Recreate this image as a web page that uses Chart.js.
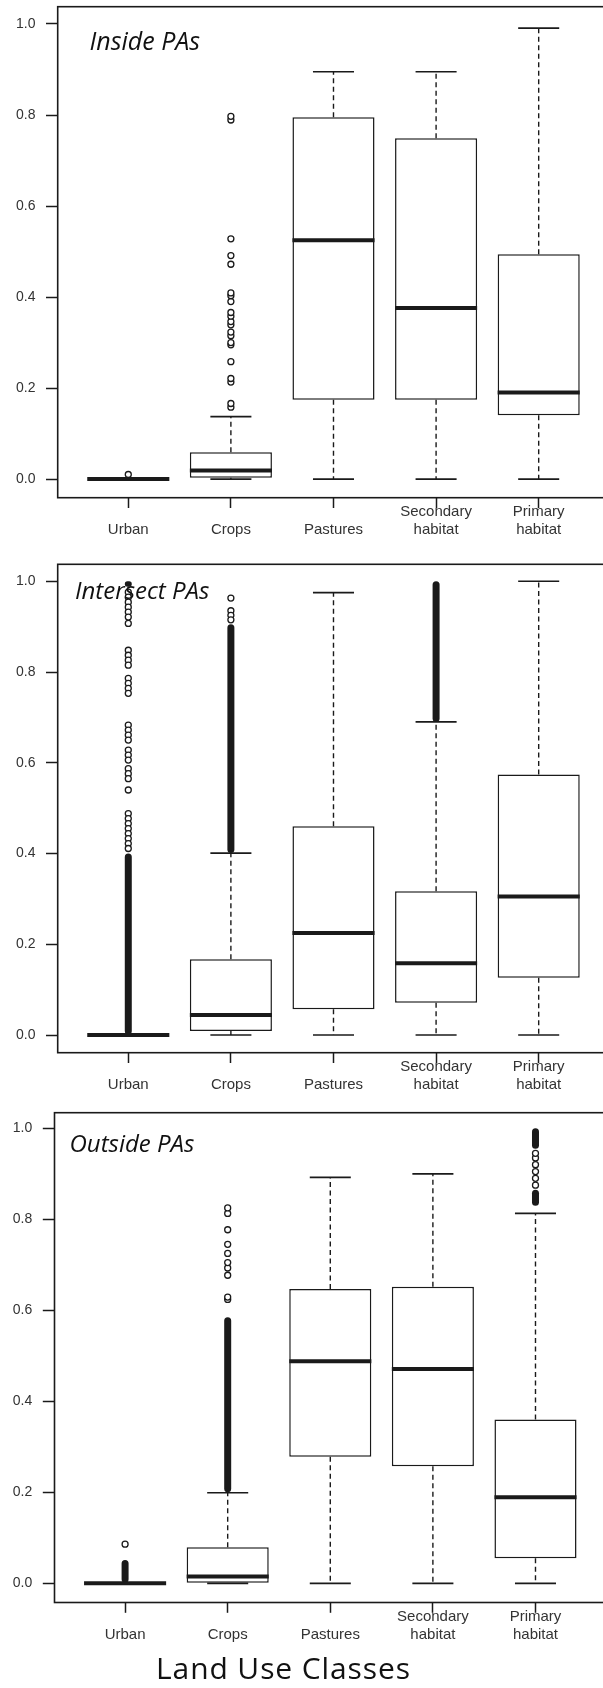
<!DOCTYPE html>
<html>
<head>
<meta charset="utf-8">
<script src="https://cdn.jsdelivr.net/npm/chart.js@4.4.1/dist/chart.umd.min.js"></script>
<style>
  html, body { margin: 0; padding: 0; background: #fff; overflow: hidden; width: 603px; height: 1688px; }
  canvas { position: absolute; left: 0; }
  .ttl { position: absolute; font-family: 'Open Sans', 'Lato', sans-serif; color: #111; line-height: 1; white-space: nowrap; z-index: 2; }
  .it { font-style: italic; }
</style>
</head>
<body>
<canvas id="c0"></canvas>
<canvas id="c1"></canvas>
<canvas id="c2"></canvas>
<div id="t0" class="ttl it"></div>
<div id="t1" class="ttl it"></div>
<div id="t2" class="ttl it"></div>
<div id="tx" class="ttl"></div>
<script>
// ---------------- data ----------------
const categories = ['Urban', 'Crops', 'Pastures', 'Secondary habitat', 'Primary habitat'];
const tickLabels = [['', 'Urban'], ['', 'Crops'], ['', 'Pastures'], ['Secondary', 'habitat'], ['Primary', 'habitat']];
const yTickValues = [0, 0.2, 0.4, 0.6, 0.8, 1.0];
const panelTitles = ['Inside PAs', 'Intersect PAs', 'Outside PAs'];
const xAxisTitle = 'Land Use Classes';

// Inside PAs
const insideLow    = [0, 0,     0,     0,     0];
const insideQ1     = [0, 0.003, 0.174, 0.174, 0.140];
const insideMedian = [0, 0.019, 0.525, 0.376, 0.190];
const insideQ3     = [0, 0.059, 0.795, 0.749, 0.494];
const insideHigh   = [0, 0.137, 0.895, 0.895, 0.991];
const insideOutliers = [
  [0.010],
  [0.158, 0.166, 0.213, 0.221, 0.258, 0.295, 0.300, 0.315, 0.323, 0.339, 0.346, 0.358, 0.366, 0.390, 0.403, 0.409, 0.472, 0.491, 0.528, 0.789, 0.797],
  [], [], []
];
const insideDense = [[], [], [], [], []];

// Intersect PAs
const intersectLow    = [0, 0,     0,     0,     0];
const intersectQ1     = [0, 0.009, 0.057, 0.071, 0.126];
const intersectMedian = [0, 0.044, 0.225, 0.158, 0.305];
const intersectQ3     = [0, 0.167, 0.460, 0.317, 0.574];
const intersectHigh   = [0, 0.401, 0.975, 0.690, 1.000];
const intersectOutliers = [
  [0.976, 0.965, 0.954, 0.943, 0.932, 0.921, 0.907, 0.848, 0.837, 0.826, 0.815, 0.786, 0.775, 0.764, 0.753,
   0.683, 0.672, 0.661, 0.650, 0.628, 0.617, 0.606, 0.587, 0.576, 0.565, 0.540, 0.488, 0.477, 0.466,
   0.455, 0.444, 0.433, 0.422, 0.411],
  [0.963, 0.935, 0.925, 0.915],
  [], [], []
];
const intersectDense = [[[0, 0.40], [0.988, 1.0]], [[0.401, 0.905]], [], [[0.69, 1.0]], []];

// Outside PAs
const outsideLow    = [0, 0,     0,     0,     0];
const outsideQ1     = [0, 0.000, 0.278, 0.257, 0.055];
const outsideMedian = [0, 0.015, 0.488, 0.471, 0.189];
const outsideQ3     = [0, 0.079, 0.647, 0.652, 0.360];
const outsideHigh   = [0, 0.199, 0.892, 0.900, 0.813];
const outsideOutliers = [
  [0.086],
  [0.624, 0.629, 0.677, 0.693, 0.705, 0.725, 0.745, 0.777, 0.813, 0.825],
  [], [],
  [0.875, 0.890, 0.905, 0.920, 0.935, 0.945]
];
const outsideDense = [[[0, 0.051]], [[0.20, 0.585]], [], [], [[0.83, 0.865], [0.955, 1.0]]];

// ---------------- layout / style ----------------
const INK = '#1a1a1a';
const CANVAS_W = 620;
const X_MIN = 0.312, X_MAX = 5.7, UNIT_PX = 102.6;
const BOX_HALF = 0.4, CAP_HALF = 0.2;
const geoms = [
  { top: 0,    height: 560, areaTop: 6.7,    areaBottom: 497.7,  left: 57.7, yMin: -0.041,  yMax: 1.038 },
  { top: 560,  height: 545, areaTop: 564,    areaBottom: 1052.7, left: 57.7, yMin: -0.039,  yMax: 1.0374 },
  { top: 1105, height: 583, areaTop: 1112.7, areaBottom: 1602.5, left: 54.5, yMin: -0.0422, yMax: 1.0343 }
];
const titlePos = [
  { left: 89.5, top: 27.8, size: 25 },
  { left: 75,   top: 578,  size: 24 },
  { left: 69.5, top: 1131.4, size: 24 }
];
const xTitlePos = { left: 156, top: 1653, size: 30, spacing: 0.9 };

const panels = [
  { low: insideLow, q1: insideQ1, median: insideMedian, q3: insideQ3, high: insideHigh, outliers: insideOutliers, dense: insideDense },
  { low: intersectLow, q1: intersectQ1, median: intersectMedian, q3: intersectQ3, high: intersectHigh, outliers: intersectOutliers, dense: intersectDense },
  { low: outsideLow, q1: outsideQ1, median: outsideMedian, q3: outsideQ3, high: outsideHigh, outliers: outsideOutliers, dense: outsideDense }
];

Chart.defaults.font.family = "'Liberation Sans', Arial, sans-serif";
Chart.defaults.color = '#333';

function seg(ctx, x1, y1, x2, y2) {
  ctx.beginPath(); ctx.moveTo(x1, y1); ctx.lineTo(x2, y2); ctx.stroke();
}

function makeDecor(p) {
  return {
    id: 'boxDecor',
    beforeDatasetsDraw(chart) {
      const { ctx, scales: { x, y } } = chart;
      ctx.save();
      ctx.strokeStyle = INK;
      p.q1.forEach((q1v, i) => {
        const cx = x.getPixelForValue(i + 1);
        const capHalf = x.getPixelForValue(i + 1 + CAP_HALF) - cx;
        ctx.lineWidth = 1.4;
        ctx.setLineDash([5, 3.5]);
        seg(ctx, cx, y.getPixelForValue(p.q3[i]), cx, y.getPixelForValue(p.high[i]));
        seg(ctx, cx, y.getPixelForValue(q1v), cx, y.getPixelForValue(p.low[i]));
        ctx.setLineDash([]);
        ctx.lineWidth = 1.7;
        seg(ctx, cx - capHalf, y.getPixelForValue(p.high[i]), cx + capHalf, y.getPixelForValue(p.high[i]));
        seg(ctx, cx - capHalf, y.getPixelForValue(p.low[i]), cx + capHalf, y.getPixelForValue(p.low[i]));
      });
      ctx.restore();
    },
    afterDatasetsDraw(chart) {
      const { ctx, chartArea: a, scales: { x, y } } = chart;
      ctx.save();
      ctx.strokeStyle = INK;
      ctx.lineWidth = 4;
      p.median.forEach((m, i) => {
        const cx = x.getPixelForValue(i + 1);
        const half = x.getPixelForValue(i + 1 + BOX_HALF) - cx;
        seg(ctx, cx - half, y.getPixelForValue(m), cx + half, y.getPixelForValue(m));
      });
      ctx.lineWidth = 1.6;
      ctx.strokeRect(a.left, a.top, a.right - a.left, a.bottom - a.top);
      ctx.restore();
    }
  };
}

panels.forEach((p, k) => {
  const g = geoms[k];
  const cv = document.getElementById('c' + k);
  cv.width = CANVAS_W; cv.height = g.height;
  cv.style.top = g.top + 'px';
  cv.style.width = CANVAS_W + 'px'; cv.style.height = g.height + 'px';
  const right = g.left + (X_MAX - X_MIN) * UNIT_PX;
  const xAxisH = g.top + g.height - g.areaBottom;

  new Chart(cv, {
    type: 'bar',
    data: {
      datasets: [
        {
          type: 'bar', label: 'box',
          data: p.q1.map((v, i) => ({ x: i + 1, y: [v, p.q3[i]] })),
          backgroundColor: '#fff', borderColor: INK, borderWidth: 1.5, borderSkipped: false,
          grouped: false, barPercentage: 0.8, categoryPercentage: 1, order: 3
        },
        {
          type: 'bar', label: 'dense outliers',
          data: p.dense.flatMap((segs, i) => segs.map(s => ({ x: i + 1, y: s }))),
          backgroundColor: INK, borderWidth: 0, borderSkipped: false, borderRadius: 3.5,
          grouped: false, barPercentage: 0.8, categoryPercentage: 1, maxBarThickness: 7, order: 2
        },
        {
          type: 'scatter', label: 'outliers',
          data: p.outliers.flatMap((vals, i) => vals.map(v => ({ x: i + 1, y: v }))),
          pointRadius: 3, pointBorderWidth: 1.3, pointBackgroundColor: '#fff', pointBorderColor: INK,
          pointHoverRadius: 3, order: 1
        }
      ]
    },
    options: {
      responsive: false, animation: false, devicePixelRatio: 1,
      layout: { padding: { top: g.areaTop - g.top, right: CANVAS_W - right, bottom: 0, left: 0 } },
      plugins: { legend: { display: false }, tooltip: { enabled: false } },
      scales: {
        x: {
          type: 'linear', min: X_MIN, max: X_MAX, bounds: 'data', offset: false,
          grid: { display: true, offset: false, drawOnChartArea: false, drawTicks: true, tickLength: 10.3, tickWidth: 1.5, tickColor: INK },
          border: { display: false },
          ticks: {
            stepSize: 1, autoSkip: false, maxRotation: 0, minRotation: 0, padding: -5.4,
            font: { size: 15, lineHeight: 1.22 }, color: '#333',
            callback: (v) => tickLabels[Math.round(v) - 1]
          },
          afterBuildTicks: (s) => { s.ticks = categories.map((_, i) => ({ value: i + 1 })); },
          afterFit: (s) => { s.height = xAxisH; s.paddingLeft = 0; s.paddingRight = 0; }
        },
        y: {
          type: 'linear', min: g.yMin, max: g.yMax, bounds: 'data',
          grid: { display: true, drawOnChartArea: false, drawTicks: true, tickLength: 11.7, tickWidth: 1.5, tickColor: INK },
          border: { display: false },
          ticks: {
            stepSize: 0.2, padding: 10.5, font: { size: 14 }, color: '#333',
            callback: (v) => Number(v).toFixed(1)
          },
          afterBuildTicks: (s) => { s.ticks = yTickValues.map(v => ({ value: v })); },
          afterFit: (s) => { s.width = g.left; s.paddingTop = 0; s.paddingBottom = 0; }
        }
      }
    },
    plugins: [makeDecor(p)]
  });

  const t = document.getElementById('t' + k);
  t.textContent = panelTitles[k];
  t.style.left = titlePos[k].left + 'px';
  t.style.top = titlePos[k].top + 'px';
  t.style.fontSize = titlePos[k].size + 'px';
});

const tx = document.getElementById('tx');
tx.textContent = xAxisTitle;
tx.style.left = xTitlePos.left + 'px';
tx.style.top = xTitlePos.top + 'px';
tx.style.fontSize = xTitlePos.size + 'px';
tx.style.letterSpacing = xTitlePos.spacing + 'px';
</script>
</body>
</html>
